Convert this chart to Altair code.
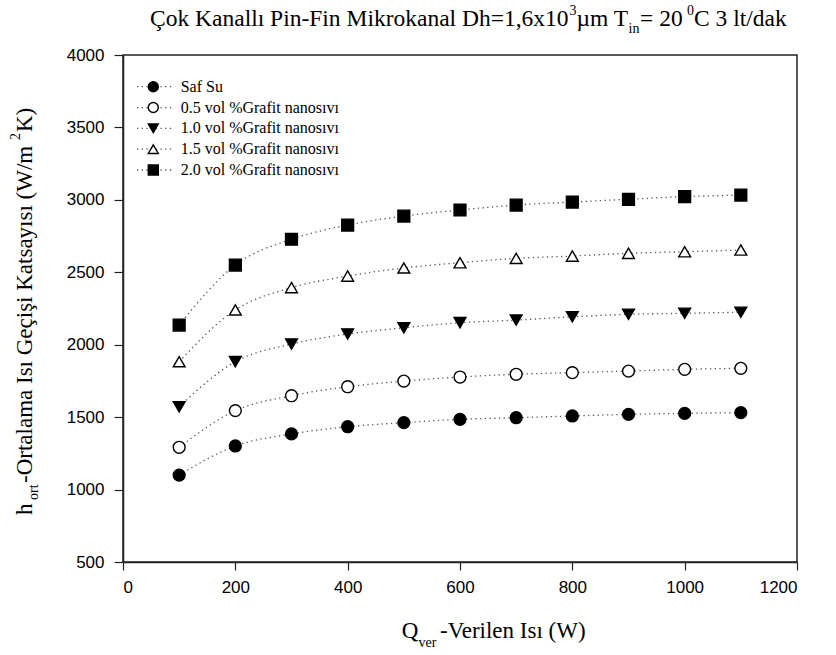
import altair as alt
import pandas as pd

# Supplied heat (W) and mean heat transfer coefficient (W/m2K) per fluid
heat_w = [100, 200, 300, 400, 500, 600, 700, 800, 900, 1000, 1100]
series_names = [
    "Saf Su",
    "0.5 vol %Grafit nanosıvı",
    "1.0 vol %Grafit nanosıvı",
    "1.5 vol %Grafit nanosıvı",
    "2.0 vol %Grafit nanosıvı",
]
h_saf_su = [1100, 1301, 1384, 1434, 1462, 1485, 1496, 1508, 1519, 1526, 1531]
h_05 = [1292, 1545, 1648, 1710, 1749, 1777, 1796, 1807, 1818, 1830, 1837]
h_10 = [1572, 1883, 2005, 2074, 2117, 2152, 2170, 2193, 2210, 2217, 2224]
h_15 = [1883, 2240, 2394, 2474, 2530, 2566, 2596, 2612, 2631, 2642, 2654]
h_20 = [2136, 2550, 2728, 2826, 2888, 2930, 2964, 2985, 3004, 3022, 3033]
x_ticks = [0, 200, 400, 600, 800, 1000, 1200]
y_ticks = [500, 1000, 1500, 2000, 2500, 3000, 3500, 4000]

marker_shapes = ["circle", "circle", "triangle-down", "triangle-up", "square"]
marker_fills = ["black", "white", "black", "white", "black"]

rows = []
for name, vals in zip(series_names, [h_saf_su, h_05, h_10, h_15, h_20]):
    for q, h in zip(heat_w, vals):
        rows.append({"seri": name, "Q": q, "h": h})
df = pd.DataFrame(rows)

W, H = 674, 507
SERIF = "Liberation Serif"
SANS = "Liberation Sans"
INK = "#222222"
DOT = [1.3, 3.4]

shape_enc = alt.Shape("seri:N", scale=alt.Scale(domain=series_names, range=marker_shapes), legend=None)
fill_enc = alt.Fill("seri:N", scale=alt.Scale(domain=series_names, range=marker_fills), legend=None)

x_axis = alt.Axis(values=x_ticks, format="d", title=None, grid=False, tickSize=8, labelPadding=9,
                  labelFont=SANS, labelFontSize=17, labelColor="black",
                  domainColor=INK, tickColor=INK, domainWidth=1.5, tickWidth=1.2)
y_axis = alt.Axis(values=y_ticks, format="d", title=None, grid=False, tickSize=9, labelPadding=10,
                  labelFont=SANS, labelFontSize=17, labelColor="black",
                  domainColor=INK, tickColor=INK, domainWidth=1.5, tickWidth=1.2)

x_enc = alt.X("Q:Q", scale=alt.Scale(domain=[0, 1200], nice=False), axis=x_axis)
y_scale = alt.Scale(domain=[500, 4000], nice=False, zero=False)

base = alt.Chart(df)
curves = base.mark_line(interpolate="monotone", strokeDash=DOT, color="#555555",
                        strokeWidth=1.3).encode(
    x=x_enc, y=alt.Y("h:Q", scale=y_scale, axis=y_axis), detail="seri:N")
markers = base.mark_point(size=140, stroke="black", strokeWidth=1.4, opacity=1,
                          fillOpacity=1).encode(
    x=x_enc, y=alt.Y("h:Q", scale=y_scale, axis=None),
    shape=shape_enc, fill=fill_enc)

# In-plot key: dotted stub, marker and name for every series
key_df = pd.DataFrame({"seri": series_names})
key_y = alt.Y("seri:N", scale=alt.Scale(type="point", domain=series_names,
                                        range=[31.7, 115], padding=0), axis=None)
key = alt.Chart(key_df)
key_line = key.mark_rule(strokeDash=DOT, color="#555555", strokeWidth=1.3).encode(
    x=alt.value(14), x2=alt.value(50), y=key_y)
key_mark = key.mark_point(size=100, stroke="black", strokeWidth=1.4, opacity=1,
                          fillOpacity=1).encode(
    x=alt.value(30.3), y=key_y, shape=shape_enc, fill=fill_enc)
key_text = key.mark_text(align="left", baseline="middle", font=SERIF, fontSize=16,
                         color="black").encode(
    x=alt.value(57.7), y=key_y, text="seri:N")


def note(txt, x, y, size=23, align="left", angle=0):
    return alt.Chart(pd.DataFrame({"t": [txt]})).mark_text(
        align=align, baseline="alphabetic", font=SERIF, fontSize=size,
        angle=angle, color="black").encode(
        x=alt.value(x), y=alt.value(y), text="t:N")


# Title with superscripts / subscript, pieces laid end to end
TS = 23.5
title_parts = [
    note("Çok Kanallı Pin-Fin Mikrokanal Dh=1,6x10", 27, -29.3, size=TS),
    note("3", 446.5, -40, size=14),
    note("µm T", 453.5, -29.3, size=TS),
    note("in", 505.5, -21.7, size=14),
    note("= 20", 517, -29.3, size=TS),
    note("0", 564, -40, size=14),
    note("C 3 lt/dak", 571, -29.3, size=TS),
]

# x axis title: Q_ver-Verilen Isı (W)
x_title = [
    note("Q", 278.7, 583.3),
    note("ver", 295.5, 591.7, size=14),
    note("-Verilen Isı (W)", 317, 583.3),
]

# y axis title, rotated: h_ort-Ortalama Isı Geçişi Katsayısı (W/m^2K)
y_title = [
    note("h", -91.3, 460, angle=270),
    note("ort", -85, 445, size=14, angle=270),
    note("-Ortalama Isı Geçişi Katsayısı (W/m", -91.3, 428, angle=270),
    note("2", -103, 85, size=14, angle=270),
    note("K)", -91.3, 77, angle=270),
]

chart = alt.layer(
    curves, markers, key_line, key_mark, key_text, *title_parts, *x_title, *y_title
).resolve_scale(y="independent").properties(
    width=W, height=H,
    autosize=alt.AutoSizeParams(type="none"),
    padding={"left": 123, "top": 55, "right": 39, "bottom": 93},
    background="white",
).configure_view(stroke=INK, strokeWidth=1.5)

chart.save("out.html", embed_options={"renderer": "svg", "actions": False})
